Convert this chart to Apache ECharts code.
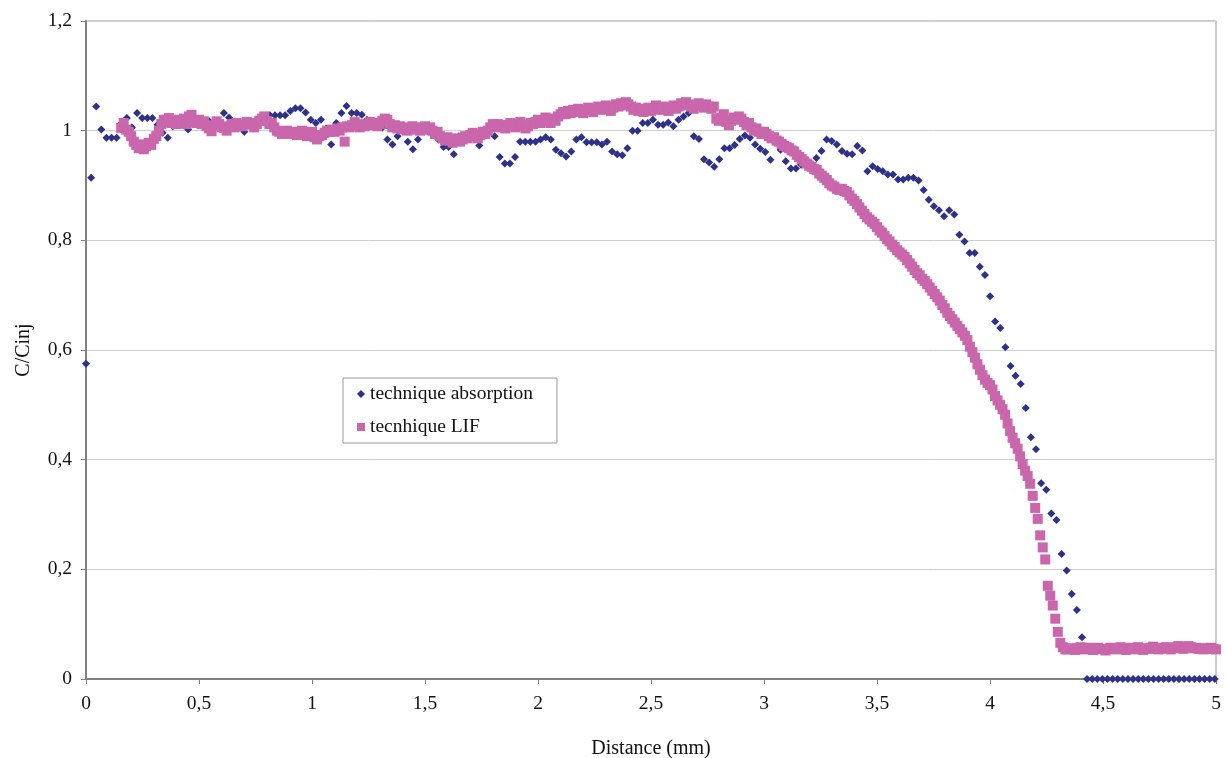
<!DOCTYPE html>
<html><head><meta charset="utf-8">
<script src="https://cdn.jsdelivr.net/npm/echarts@6/dist/echarts.min.js"></script>
<style>html,body{margin:0;padding:0;background:#fff}#chart{width:1226px;height:758px}</style>
</head><body><div id="chart"></div>
<script>
// ---- data ----
const seriesNames = ['technique absorption', 'tecnhique LIF'];
const xTickLabels = ['0','0,5','1','1,5','2','2,5','3','3,5','4','4,5','5'];
const yTickLabels = ['0','0,2','0,4','0,6','0,8','1','1,2'];

// absorption: sampled every 0.0226 mm starting at 0
const absStep = 0.0226;
const absorption = [
0.575,0.914,1.044,1.002,0.987,0.987,0.987,1.014,1.023,1.006,
1.032,1.023,1.023,1.023,1.011,0.996,0.987,1.008,1.012,1.01,
1.002,1.012,1.016,1.014,1.018,1.008,1.015,1.032,1.024,1.012,
1.006,0.998,1.017,1.014,1.018,1.02,1.028,1.028,1.028,1.028,
1.036,1.041,1.041,1.033,1.02,1.014,1.02,1.004,0.975,1.014,
1.032,1.045,1.032,1.032,1.029,1.02,1.012,1.01,1.006,0.984,
0.975,0.99,1.0,0.98,0.966,0.984,1.0,0.998,1.002,0.984,
0.97,0.97,0.957,0.99,0.985,0.99,0.992,0.973,0.995,1.0,
0.99,0.952,0.94,0.94,0.952,0.98,0.98,0.98,0.98,0.984,
0.988,0.984,0.965,0.959,0.953,0.962,0.984,0.988,0.979,0.979,
0.979,0.975,0.98,0.962,0.957,0.955,0.968,1.0,1.0,1.014,
1.014,1.02,1.011,1.011,1.015,1.008,1.02,1.026,1.032,0.99,
0.985,0.948,0.942,0.934,0.948,0.968,0.968,0.974,0.985,0.991,
0.987,0.975,0.967,0.961,0.947,0.98,0.965,0.944,0.931,0.931,
0.938,0.945,0.94,0.95,0.963,0.984,0.981,0.975,0.963,0.958,
0.957,0.972,0.964,0.926,0.935,0.93,0.926,0.92,0.92,0.911,
0.911,0.914,0.914,0.909,0.892,0.874,0.862,0.855,0.844,0.855,
0.847,0.81,0.798,0.777,0.777,0.752,0.737,0.698,0.652,0.64,
0.605,0.571,0.553,0.538,0.494,0.441,0.419,0.357,0.345,0.302,
0.29,0.228,0.198,0.155,0.126,0.076,0,0,0,0,
0,0,0,0,0,0,0,0,0,0,
0,0,0,0,0,0,0,0,0,0,
0,0
];

// LIF: sampled every 5/450 mm, first sample at index 14
const lifStep = 5 / 450;
const lifFirstIndex = 14;
const lif = [
1.005,1.014,1.002,0.998,0.99,0.98,
0.974,0.968,0.975,0.966,0.972,0.978,0.974,0.985,0.99,1.0,
1.012,1.02,1.016,1.023,1.014,1.018,1.012,1.02,1.016,1.022,
1.012,1.026,1.029,1.018,1.014,1.02,1.012,1.017,1.008,1.004,
0.999,1.01,1.017,1.012,1.006,1.005,1.0,1.008,1.012,1.006,
1.014,1.01,1.008,1.011,1.016,1.012,1.014,1.006,1.012,1.018,
1.022,1.026,1.018,1.012,1.014,1.006,1.0,0.998,0.994,0.996,
1.0,0.994,0.996,0.998,0.992,0.996,1.0,0.994,0.99,0.996,
0.998,0.988,0.984,0.99,0.992,0.996,1.0,0.998,1.002,0.998,
1.004,1.0,1.006,0.98,1.008,1.006,1.01,1.016,1.012,1.006,
1.01,1.008,1.012,1.016,1.01,1.014,1.008,1.012,1.018,1.022,
1.02,1.012,1.006,1.01,1.004,1.008,1.002,1.006,1.0,1.004,
1.008,1.002,1.006,1.0,1.004,1.008,1.002,1.006,1.0,0.994,
0.998,0.99,0.986,0.982,0.988,0.984,0.978,0.982,0.986,0.98,
0.984,0.99,0.986,0.992,0.996,0.99,0.986,0.992,0.998,0.994,
1.0,1.006,1.012,1.008,1.012,1.006,1.01,1.004,1.01,1.014,
1.008,1.006,1.012,1.016,1.01,1.004,1.008,1.014,1.012,1.016,
1.02,1.014,1.018,1.024,1.02,1.014,1.022,1.018,1.026,1.03,
1.034,1.03,1.036,1.032,1.038,1.034,1.04,1.036,1.032,1.038,
1.042,1.038,1.034,1.04,1.044,1.038,1.042,1.046,1.04,1.036,
1.042,1.048,1.044,1.05,1.046,1.052,1.048,1.044,1.038,1.042,
1.036,1.04,1.034,1.038,1.042,1.036,1.04,1.046,1.042,1.038,
1.044,1.04,1.036,1.042,1.046,1.04,1.044,1.05,1.046,1.052,
1.048,1.044,1.04,1.046,1.05,1.046,1.042,1.048,1.044,1.04,
1.044,1.022,1.018,1.024,1.03,1.016,1.01,1.018,1.024,1.02,
1.026,1.022,1.016,1.01,1.014,1.006,1.0,1.004,0.998,0.994,
0.998,0.994,0.99,0.986,0.988,0.982,0.98,0.976,0.972,0.97,
0.968,0.964,0.962,0.956,0.952,0.948,0.944,0.94,0.936,0.934,
0.93,0.928,0.922,0.918,0.914,0.91,0.904,0.9,0.898,0.894,
0.892,0.894,0.89,0.888,0.882,0.876,0.872,0.866,0.86,0.854,
0.848,0.842,0.838,0.834,0.83,0.824,0.818,0.814,0.808,0.802,
0.798,0.792,0.788,0.782,0.778,0.774,0.77,0.764,0.758,0.752,
0.746,0.74,0.736,0.73,0.726,0.72,0.714,0.708,0.702,0.696,
0.69,0.682,0.676,0.668,0.662,0.656,0.65,0.644,0.638,0.632,
0.626,0.618,0.606,0.596,0.586,0.574,0.564,0.554,0.546,0.54,
0.536,0.528,0.516,0.508,0.5,0.492,0.482,0.466,0.452,0.44,
0.43,0.42,0.406,0.392,0.38,0.37,0.356,0.334,0.312,0.292,
0.262,0.24,0.218,0.17,0.152,0.134,0.11,0.086,0.066,0.058,
0.054,0.054,0.056,0.055,0.053,0.056,0.058,0.055,0.054,0.057,
0.055,0.053,0.056,0.057,0.055,0.054,0.052,0.055,0.057,0.056,
0.054,0.055,0.058,0.056,0.053,0.055,0.057,0.054,0.056,0.058,
0.055,0.053,0.056,0.055,0.057,0.059,0.056,0.054,0.055,0.057,
0.058,0.056,0.054,0.056,0.058,0.06,0.057,0.055,0.058,0.06,
0.058,0.056,0.057,0.055,0.056,0.054,0.056,0.055,0.057,0.055,
0.054
];

// ---- build ----
const absData = absorption.map((v, i) => [i * absStep, v]);
const lifData = lif.map((v, i) => [(i + lifFirstIndex) * lifStep, v]);

const FONT = "'Liberation Serif', 'Times New Roman', serif";
const chart = echarts.init(document.getElementById('chart'), null, { renderer: 'canvas' });
chart.setOption({
  animation: false,
  backgroundColor: '#ffffff',
  textStyle: { fontFamily: FONT, color: '#111' },
  grid: { left: 86, right: 10, top: 21, bottom: 79, show: true, borderColor: '#9a9a9a', borderWidth: 1,
          containLabel: false, outerBoundsMode: 'none' },
  xAxis: {
    type: 'value', min: 0, max: 5, interval: 0.5,
    name: 'Distance (mm)', nameLocation: 'middle', nameGap: 60,
    nameTextStyle: { fontFamily: FONT, fontSize: 20, color: '#111' },
    axisLine: { show: true, onZero: false, lineStyle: { color: '#808080', width: 2 } },
    axisTick: { show: true, inside: false, length: 5, lineStyle: { color: '#808080', width: 1 } },
    axisLabel: { margin: 15, fontFamily: FONT, fontSize: 19.5, color: '#111',
      formatter: v => xTickLabels[Math.round(v / 0.5)] },
    splitLine: { show: false }
  },
  yAxis: {
    type: 'value', min: 0, max: 1.2, interval: 0.2,
    name: 'C/Cinj', nameLocation: 'middle', nameGap: 52, nameRotate: 90,
    nameTextStyle: { fontFamily: FONT, fontSize: 20, color: '#111' },
    axisLine: { show: true, onZero: false, lineStyle: { color: '#808080', width: 2 } },
    axisTick: { show: true, inside: false, length: 5, lineStyle: { color: '#808080', width: 1 } },
    axisLabel: { margin: 14, fontFamily: FONT, fontSize: 19.5, color: '#111',
      formatter: v => yTickLabels[Math.round(v / 0.2)] },
    splitLine: { show: true, lineStyle: { color: '#cfcfcf', width: 1 } }
  },
  legend: {
    left: 343, top: 378, orient: 'vertical',
    backgroundColor: '#ffffff', borderColor: '#9a9a9a', borderWidth: 1,
    padding: [6, 24, 6, 14], itemGap: 13, itemWidth: 8, itemHeight: 8,
    textStyle: { fontFamily: FONT, fontSize: 19.5, color: '#111' },
    data: [
      { name: seriesNames[0], icon: 'diamond' },
      { name: seriesNames[1], icon: 'rect' }
    ]
  },
  series: [
    { name: seriesNames[0], type: 'scatter', data: absData, symbol: 'diamond', symbolSize: 8,
      itemStyle: { color: '#2e3188', opacity: 1 }, z: 2 },
    { name: seriesNames[1], type: 'scatter', data: lifData, symbol: 'rect', symbolSize: 10,
      itemStyle: { color: '#c966ac', opacity: 1 }, z: 3 }
  ]
});
</script>
</body></html>
